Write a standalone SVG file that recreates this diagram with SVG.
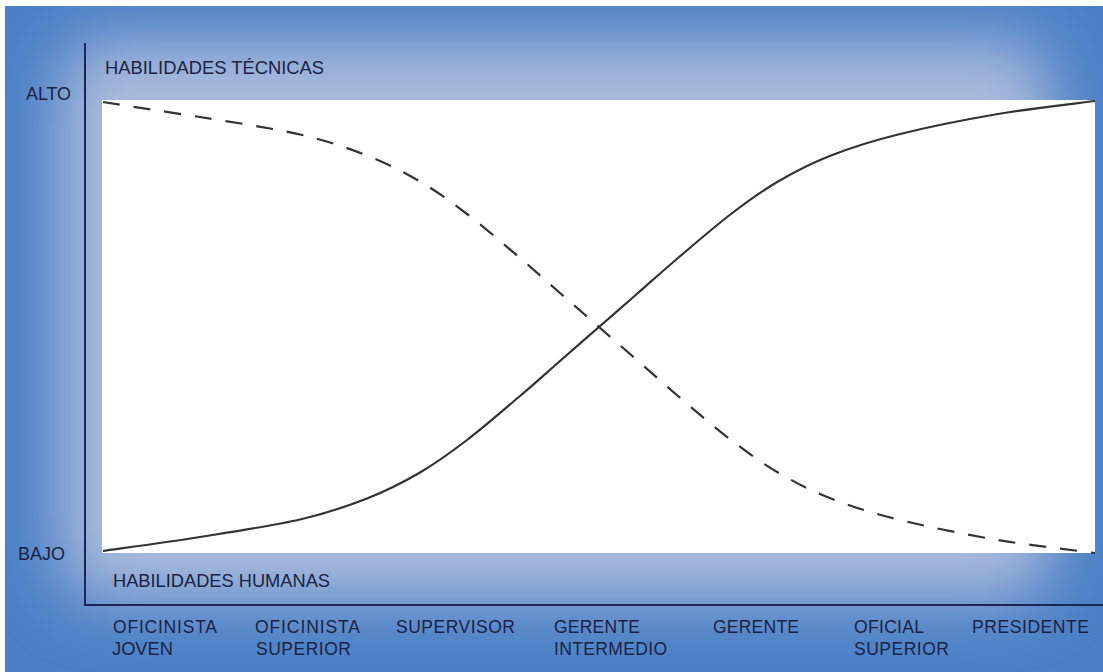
<svg xmlns="http://www.w3.org/2000/svg" width="1103" height="672" viewBox="0 0 1103 672">
  <defs>
    <filter id="glow" filterUnits="userSpaceOnUse" x="0" y="0" width="1103" height="672">
      <feGaussianBlur stdDeviation="32"/>
    </filter>
    <clipPath id="bgclip">
      <rect x="5" y="6" width="1098" height="666"/>
    </clipPath>
  </defs>
  <style>
    .lbl { font-family: "Liberation Sans", Arial, sans-serif; font-size: 17.5px; fill: #1a2344; }
    .axis { stroke: #1b2556; stroke-width: 2; fill: none; }
    .curve { stroke: #333333; stroke-width: 2.2; fill: none; stroke-linecap: butt; stroke-linejoin: round; }
    .dash { stroke-dasharray: 17 14; }
  </style>
  <rect x="0" y="0" width="1103" height="672" fill="#ffffff"/>
  <g id="background" clip-path="url(#bgclip)">
    <rect x="5" y="6" width="1098" height="666" fill="#4b80c6"/>
    <rect x="60" y="42" width="990" height="556" rx="40" fill="#abbcdc" filter="url(#glow)"/>
  </g>
  <g id="plot-area">
    <rect x="102" y="100" width="993" height="453" fill="#ffffff"/>
  </g>
  <g id="axes">
    <line class="axis" x1="85" y1="43" x2="85" y2="606"/>
    <line class="axis" x1="84" y1="605" x2="1103" y2="605"/>
  </g>
  <g id="connectors">
    <path id="human-skills" class="curve" d="M103,551 C119.17,548.67 167.17,542.25 200,537 C232.83,531.75 272.17,525.92 300,519.5 C327.83,513.08 347,506.33 367,498.5 C387,490.67 403.33,482.25 420,472.5 C436.67,462.75 450.33,452.75 467,440 C483.67,427.25 504.5,409.17 520,396 C535.5,382.83 546.83,372.5 560,361 C573.17,349.5 586,338.33 599,327 C612,315.67 624.83,304.5 638,293 C651.17,281.5 662.5,271.17 678,258 C693.5,244.83 714.33,226.75 731,214 C747.67,201.25 761.33,191.25 778,181.5 C794.67,171.75 811,163.33 831,155.5 C851,147.67 870.17,141.42 898,134.5 C925.83,127.58 965.17,119.58 998,114 C1030.83,108.42 1078.83,103.17 1095,101"/>
    <path id="technical-skills" class="curve dash" d="M103,102 C119.17,104.8 167.17,111.75 200,117 C232.83,122.25 272.17,128.08 300,134.5 C327.83,140.92 347,147.67 367,155.5 C387,163.33 403.33,171.75 420,181.5 C436.67,191.25 450.33,201.25 467,214 C483.67,226.75 504.5,244.83 520,258 C535.5,271.17 546.83,281.5 560,293 C573.17,304.5 586,315.67 599,327 C612,338.33 624.83,349.5 638,361 C651.17,372.5 662.5,382.83 678,396 C693.5,409.17 714.33,427.25 731,440 C747.67,452.75 761.33,462.75 778,472.5 C794.67,482.25 811,490.67 831,498.5 C851,506.33 870.17,512.58 898,519.5 C925.83,526.42 965.17,534.42 998,540 C1030.83,545.58 1078.83,550.83 1095,553"/>
  </g>
  <g id="y-labels">
    <text class="lbl" x="26" y="100" textLength="45" lengthAdjust="spacingAndGlyphs">ALTO</text>
    <text class="lbl" x="18" y="560" textLength="47" lengthAdjust="spacingAndGlyphs">BAJO</text>
  </g>
  <g id="series-labels">
    <text class="lbl" x="105" y="74" textLength="219" lengthAdjust="spacingAndGlyphs">HABILIDADES TÉCNICAS</text>
    <text class="lbl" x="113" y="587" textLength="217" lengthAdjust="spacingAndGlyphs">HABILIDADES HUMANAS</text>
  </g>
  <g id="x-labels">
    <g id="oficinista-joven">
      <text class="lbl" x="113" y="633" textLength="104" lengthAdjust="spacing">OFICINISTA</text>
      <text class="lbl" x="112" y="655" textLength="61" lengthAdjust="spacingAndGlyphs">JOVEN</text>
    </g>
    <g id="oficinista-superior">
      <text class="lbl" x="255" y="633" textLength="105" lengthAdjust="spacing">OFICINISTA</text>
      <text class="lbl" x="256" y="655" textLength="95" lengthAdjust="spacing">SUPERIOR</text>
    </g>
    <g id="supervisor">
      <text class="lbl" x="396" y="633" textLength="119" lengthAdjust="spacing">SUPERVISOR</text>
    </g>
    <g id="gerente-intermedio">
      <text class="lbl" x="554" y="633" textLength="86" lengthAdjust="spacing">GERENTE</text>
      <text class="lbl" x="554" y="655" textLength="113" lengthAdjust="spacing">INTERMEDIO</text>
    </g>
    <g id="gerente">
      <text class="lbl" x="713" y="633" textLength="86" lengthAdjust="spacing">GERENTE</text>
    </g>
    <g id="oficial-superior">
      <text class="lbl" x="854" y="633" textLength="70" lengthAdjust="spacing">OFICIAL</text>
      <text class="lbl" x="854" y="655" textLength="95" lengthAdjust="spacing">SUPERIOR</text>
    </g>
    <g id="presidente">
      <text class="lbl" x="972" y="633" textLength="117" lengthAdjust="spacing">PRESIDENTE</text>
    </g>
  </g>
</svg>
